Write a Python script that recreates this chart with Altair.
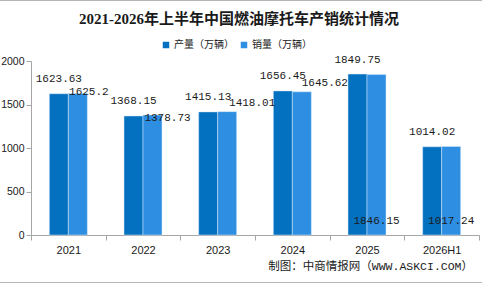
import altair as alt
import pandas as pd

# Annual output and sales of fuel motorcycles in China (10k units)
years = ["2021", "2022", "2023", "2024", "2025", "2026H1"]
production = [1623.63, 1368.15, 1415.13, 1656.45, 1849.75, 1014.02]
sales = [1625.2, 1378.73, 1418.01, 1645.62, 1846.15, 1017.24]

series_names = ["产量（万辆）", "销量（万辆）"]
series_colors = ["#0470C0", "#2D8EE2"]
y_ticks = [0, 500, 1000, 1500, 2000]

title_text = "2021-2026年上半年中国燃油摩托车产销统计情况"
source_text = "制图：中商情报网（WWW.ASKCI.COM）"

rows = []
for yr, p, s in zip(years, production, sales):
    rows.append({"year": yr, "series": series_names[0], "value": p, "label": str(p), "base": 0})
    rows.append({"year": yr, "series": series_names[1], "value": s, "label": str(s), "base": 0})
df = pd.DataFrame(rows)

W, H = 448, 174
PAD = {"left": 31, "top": 61, "right": 3, "bottom": 49}

LABEL_FONT = "Liberation Mono"
AXIS_FONT = "Liberation Sans"
GRAY = "#a6a6a6"
INK = "#1a1a1a"

x_enc = alt.X(
    "year:N",
    sort=years,
    scale=alt.Scale(paddingInner=0, paddingOuter=0),
    axis=alt.Axis(
        title=None, labelAngle=0, tickBand="extent", tickSize=5,
        labelPadding=4, labelFont=AXIS_FONT, labelFontSize=11, labelColor=INK,
        domainColor=GRAY, tickColor=GRAY, grid=False,
    ),
)
xo_enc = alt.XOffset(
    "series:N",
    scale=alt.Scale(domain=series_names, paddingInner=0, paddingOuter=0.965),
)
y_axis = alt.Axis(
    title=None, values=y_ticks, format="d", grid=False, tickSize=5, labelPadding=2,
    labelFont=AXIS_FONT, labelFontSize=10.5, labelColor=INK,
    domainColor=GRAY, tickColor=GRAY,
)
y_scale = alt.Scale(domain=[0, 2000], nice=False)
y_enc = alt.Y("value:Q", scale=y_scale, axis=y_axis)

bars = alt.Chart(df).mark_bar(stroke="#d8eaf8", strokeWidth=0.5).encode(
    x=x_enc,
    xOffset=xo_enc,
    y=y_enc,
    color=alt.Color(
        "series:N",
        scale=alt.Scale(domain=series_names, range=series_colors),
        legend=alt.Legend(
            orient="none", legendX=130, legendY=-21, direction="horizontal",
            title=None, symbolType="square", symbolSize=42, symbolStrokeWidth=0,
            symbolOpacity=1, labelFont="Noto Sans CJK SC", labelFontSize=10,
            labelColor=INK, columnPadding=5, labelOffset=3,
        ),
    ),
)

text_style = dict(font=LABEL_FONT, fontSize=11, color=INK, baseline="middle")
prod_name, sales_name = series_names

# production labels sit centred above their bars
prod_labels = alt.Chart(df).transform_filter(
    f"datum.series === '{prod_name}'"
).mark_text(dy=-14.5, **text_style).encode(
    x=x_enc, xOffset=xo_enc, y=y_enc, text="label:N"
)

# sales labels are nudged beside the bar tops, or placed at the bar base
sales_nudge = {"2021": (11, -2), "2022": (15, 2.7), "2023": (25, -8.5), "2024": (23, -8.5)}
sales_at_base = ["2025", "2026H1"]

layers = [bars, prod_labels]
for yr, (ddx, ddy) in sales_nudge.items():
    layers.append(
        alt.Chart(df).transform_filter(
            f"datum.series === '{sales_name}' && datum.year === '{yr}'"
        ).mark_text(dx=ddx, dy=ddy, **text_style).encode(
            x=x_enc, xOffset=xo_enc, y=y_enc, text="label:N"
        )
    )
base_list = ",".join(f"'{v}'" for v in sales_at_base)
layers.append(
    alt.Chart(df).transform_filter(
        f"datum.series === '{sales_name}' && indexof([{base_list}], datum.year) >= 0"
    ).mark_text(dy=-13.7, **text_style).encode(
        x=x_enc, xOffset=xo_enc,
        y=alt.Y("base:Q", scale=y_scale, axis=y_axis),
        text="label:N",
    )
)

one = alt.Data(values=[{}])

title = alt.Chart(one).mark_text(
    text=title_text, font="Liberation Serif, Noto Sans CJK SC", fontSize=15,
    fontWeight="bold", color=INK, baseline="middle", align="center",
).encode(x=alt.value(208), y=alt.value(-42))

source = alt.Chart(one).mark_text(
    text=source_text, font="Liberation Mono, Noto Sans CJK SC", fontSize=11.5,
    color=INK, baseline="middle", align="right",
).encode(x=alt.value(442), y=alt.value(206))

frame_top = alt.Chart(one).mark_rule(color="#b4b4b4", strokeWidth=1).encode(
    x=alt.value(-31), x2=alt.value(451), y=alt.value(-60.5)
)
frame_bottom = alt.Chart(one).mark_rule(color="#b4b4b4", strokeWidth=1).encode(
    x=alt.value(-31), x2=alt.value(451), y=alt.value(221.5)
)

layers += [title, source, frame_top, frame_bottom]

chart = alt.layer(*layers).properties(
    width=W, height=H,
    autosize=alt.AutoSizeParams(type="none"),
    padding=PAD,
    background="white",
).configure_view(stroke=None)

chart.save("out.html", embed_options={"renderer": "svg", "actions": False})
